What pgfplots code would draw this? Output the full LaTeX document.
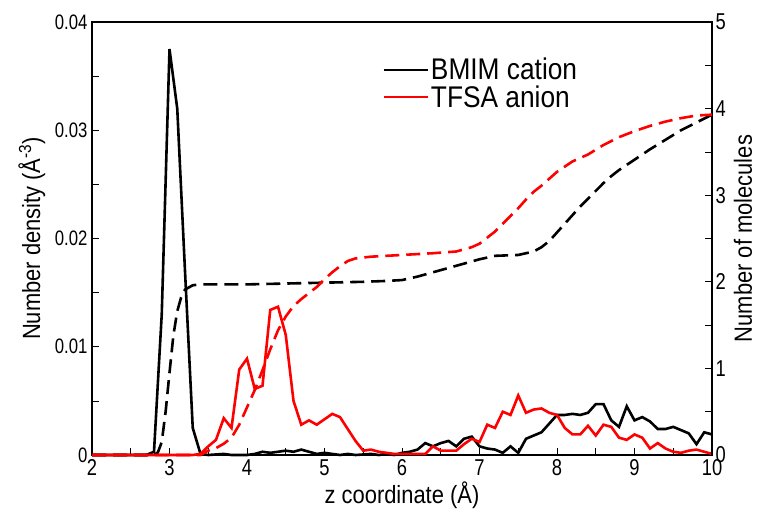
\documentclass[border=0pt]{standalone}
\usepackage{pgfplots}
\pgfplotsset{compat=1.18}
\usepackage{fontspec}
\setmainfont{Liberation Sans}[FakeStretch=0.8]
\newfontfamily\labelfont{Liberation Sans}[FakeStretch=0.88]
\usetikzlibrary{calc}

\pgfplotstableread{
x y
2.0 0
2.7 0
2.8 0.0003
2.9 0.013
3.0 0.0375
3.1 0.032
3.2 0.017
3.3 0.0025
3.4 0.0001
3.5 0.0
3.7 0.0001
3.8 0.0
4.0 0.0
4.1 0.0001
4.2 0.0003
4.3 0.0002
4.4 0.0003
4.5 0.0004
4.6 0.0003
4.7 0.0005
4.8 0.0003
4.9 0.0001
5.0 0.0002
5.1 0.0001
5.2 0.0
5.3 0.0001
5.4 0.0
5.6 0.0001
5.7 0.0
5.8 0.0001
5.9 0.0
6.0 0.0002
6.1 0.0003
6.2 0.0005
6.3 0.0011
6.4 0.0008
6.5 0.0011
6.6 0.0013
6.7 0.0008
6.8 0.0015
6.9 0.0017
7.0 0.0008
7.1 0.0006
7.2 0.0005
7.3 0.0002
7.4 0.0008
7.5 0.0002
7.6 0.0015
7.7 0.0018
7.8 0.0021
7.9 0.0029
8.0 0.0037
8.1 0.0037
8.2 0.0038
8.3 0.0037
8.4 0.0039
8.5 0.0047
8.6 0.0047
8.7 0.0032
8.8 0.0026
8.9 0.0045
9.0 0.0032
9.1 0.0035
9.2 0.0031
9.3 0.0024
9.4 0.0024
9.5 0.0026
9.6 0.0023
9.7 0.0020
9.8 0.0010
9.9 0.0021
10.0 0.0019
}\bmimdens

\pgfplotstableread{
x y
2.0 0
3.3 0
3.4 0.0001
3.5 0.0008
3.6 0.0014
3.7 0.0034
3.8 0.0025
3.9 0.0079
4.0 0.0089
4.1 0.0061
4.2 0.0064
4.3 0.0134
4.4 0.0137
4.5 0.0111
4.6 0.0050
4.7 0.0028
4.8 0.0032
4.9 0.0028
5.0 0.0033
5.1 0.0038
5.2 0.0035
5.3 0.0024
5.4 0.0013
5.5 0.0004
5.6 0.0005
5.7 0.0003
5.8 0.0002
5.9 0.0001
6.0 0.0001
6.1 0.0001
6.2 0.0001
6.3 0.0001
6.4 0.0008
6.5 0.0004
6.6 0.0004
6.7 0.0004
6.8 0.0010
6.9 0.0015
7.0 0.0012
7.1 0.0028
7.2 0.0025
7.3 0.0040
7.4 0.0037
7.5 0.0055
7.6 0.0039
7.7 0.0042
7.8 0.0043
7.9 0.0039
8.0 0.0037
8.1 0.0025
8.2 0.0019
8.3 0.0019
8.4 0.0027
8.5 0.0018
8.6 0.0028
8.7 0.0026
8.8 0.0016
8.9 0.0014
9.0 0.0019
9.1 0.0016
9.2 0.0006
9.3 0.0011
9.4 0.0006
9.5 0.0003
9.6 0.0002
9.7 0.0004
9.8 0.0005
9.9 0.0003
10.0 0.0001
}\tfsadens

\pgfplotstableread{
x y
2.0 0
2.8 0
2.85 0.03
2.9 0.15
2.95 0.5
3.0 0.95
3.05 1.38
3.1 1.66
3.15 1.82
3.2 1.91
3.3 1.96
3.4 1.97
4.0 1.97
4.5 1.98
5.0 1.99
5.5 2.00
5.8 2.01
6.0 2.02
6.2 2.06
6.4 2.11
6.6 2.16
6.8 2.21
7.0 2.26
7.2 2.30
7.5 2.31
7.7 2.35
7.8 2.40
7.9 2.47
8.0 2.57
8.1 2.67
8.2 2.77
8.3 2.87
8.4 2.96
8.5 3.05
8.6 3.14
8.7 3.22
8.8 3.29
8.9 3.35
9.0 3.41
9.2 3.53
9.4 3.64
9.6 3.75
9.8 3.84
10.0 3.93
}\bmimcum

\pgfplotstableread{
x y
2.0 0
3.4 0
3.5 0.05
3.6 0.08
3.7 0.13
3.8 0.20
3.9 0.35
4.0 0.55
4.1 0.75
4.2 0.98
4.3 1.22
4.4 1.44
4.5 1.60
4.6 1.72
4.7 1.80
4.8 1.87
4.9 1.94
5.0 2.03
5.1 2.11
5.2 2.18
5.3 2.24
5.4 2.27
5.6 2.29
6.0 2.31
6.4 2.33
6.7 2.35
6.9 2.40
7.0 2.44
7.1 2.51
7.2 2.58
7.3 2.67
7.4 2.76
7.5 2.85
7.6 2.95
7.7 3.04
7.8 3.11
7.9 3.19
8.0 3.27
8.1 3.33
8.2 3.39
8.4 3.47
8.6 3.58
8.8 3.67
9.0 3.74
9.2 3.80
9.4 3.85
9.6 3.89
9.8 3.92
10.0 3.93
}\tfsacum

\pgfplotsset{
  base/.style={
    scale only axis, width=620bp, height=433bp,
    xmin=2, xmax=10, clip=false,
    tick align=inside,
    major tick length=7bp, minor tick length=7bp,
    tick style={black, line width=0.7bp},
    axis line style={line width=1.3bp},
    /pgf/number format/assume math mode=true,
    scaled y ticks=false, scaled x ticks=false,
    ticklabel style={font=\fontsize{23}{25}\selectfont},
    label style={font=\labelfont\fontsize{25}{27}\selectfont},
  },
  dline/.style={line width=2.6bp, dash pattern=on 14bp off 7bp},
  sline/.style={line width=2.6bp},
}

\begin{document}
\begin{tikzpicture}
\begin{axis}[base, name=ax,
  ymin=0, ymax=0.04,
  xtick={2,3,4,5,6,7,8,9,10},
  xticklabels={2,3,4,5,6,7,8,9,10},
  minor x tick num=1,
  ytick={0,0.01,0.02,0.03,0.04},
  yticklabels={0,0.01,0.02,0.03,0.04},
  minor y tick num=1,
  xtick pos=bottom, ytick pos=left,
  xticklabel style={yshift=-1bp},
  yticklabel style={font=\fontsize{21}{23}\selectfont, xshift=-1bp},
  xlabel={z coordinate (Å)},
  ylabel={Number density (Å\textsuperscript{-3})},
  xlabel style={at={(axis description cs:0.5,-0.093)}, anchor=center},
  ylabel style={at={(axis description cs:-0.097,0.5)}, anchor=center},
  legend style={at={(axis description cs:0.468,0.858)}, anchor=west,
    draw=none, fill=none, font=\labelfont\fontsize{30}{32}\selectfont,
    row sep=0bp, inner sep=0pt},
  legend cell align=left,
  legend image code/.code={\draw[#1] (0bp,0bp) -- (44bp,0bp);},
]
\addplot[sline, black] table {\bmimdens};
\addlegendentry{BMIM cation}
\addplot[sline, red] table {\tfsadens};
\addlegendentry{TFSA anion}
\end{axis}
\begin{axis}[base,
  ymin=0, ymax=5,
  axis x line=none, axis y line*=right,
  ytick={0,1,2,3,4,5},
  yticklabels={0,1,2,3,4,5},
  minor y tick num=1,
  tick align=inside,
  ylabel={Number of molecules},
  ylabel style={at={(axis description cs:1.05,0.5)}, anchor=center},
]
\addplot[dline, black] table {\bmimcum};
\addplot[dline, red] table {\tfsacum};
\end{axis}
\pgfresetboundingbox
\path ($(ax.south west)+(-92bp,-56bp)$) rectangle ($(ax.north east)+(45bp,22bp)$);
\end{tikzpicture}
\end{document}
